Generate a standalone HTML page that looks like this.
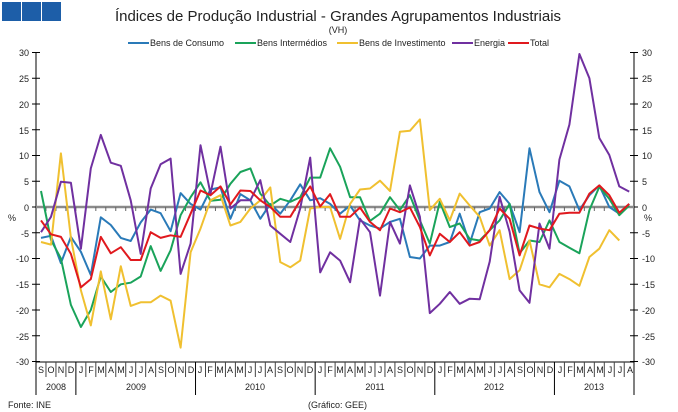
<!DOCTYPE html>
<html><head><meta charset="utf-8"><style>
body{margin:0;background:#fff;width:678px;height:412px;overflow:hidden;font-family:"Liberation Sans",sans-serif}
svg{position:absolute;left:0;top:0}
text{font-family:"Liberation Sans",sans-serif}
</style></head><body>
<svg id="s" width="678" height="412" viewBox="0 0 678 412" xmlns="http://www.w3.org/2000/svg">
<rect x="2" y="2" width="19" height="19" fill="#1d5ea8"/>
<rect x="22" y="2" width="19" height="19" fill="#1d5ea8"/>
<rect x="42" y="2" width="19" height="19" fill="#1d5ea8"/>
<text x="338" y="21" font-size="15" text-anchor="middle" fill="#222">Índices de Produção Industrial - Grandes Agrupamentos Industriais</text>
<text x="338" y="33" font-size="9" text-anchor="middle" fill="#222">(VH)</text>
<g font-size="9" fill="#222">
<line x1="128" y1="43" x2="149" y2="43" stroke="#2a7ab8" stroke-width="2"/><text x="150" y="46">Bens de Consumo</text>
<line x1="235" y1="43" x2="256" y2="43" stroke="#1aa35a" stroke-width="2"/><text x="257" y="46">Bens Intermédios</text>
<line x1="337" y1="43" x2="358" y2="43" stroke="#f0c030" stroke-width="2"/><text x="359" y="46">Bens de Investimento</text>
<line x1="452" y1="43" x2="473" y2="43" stroke="#7030a0" stroke-width="2"/><text x="474" y="46">Energia</text>
<line x1="508" y1="43" x2="529" y2="43" stroke="#e0191e" stroke-width="2"/><text x="530" y="46">Total</text>
</g>
<g id="axes" stroke="#000" stroke-width="1"></g>
<g id="lbl" font-size="9" fill="#222"></g>
<g id="ser" fill="none" stroke-width="2" stroke-linejoin="round"></g>
<text x="8" y="221" font-size="9" fill="#222">%</text>
<text x="644" y="221" font-size="9" fill="#222">%</text>
<text x="8" y="408" font-size="9" fill="#222">Fonte: INE</text>
<text x="308" y="408" font-size="9" fill="#222">(Gráfico: GEE)</text>
<g font-size="9" fill="#222" text-anchor="middle">
<text x="56" y="390">2008</text><text x="136" y="390">2009</text><text x="255" y="390">2010</text>
<text x="375" y="390">2011</text><text x="494" y="390">2012</text><text x="594" y="390">2013</text>
</g>
<g font-size="9" fill="#222" text-anchor="end">
<text x="29" y="56">30</text><text x="29" y="82">25</text><text x="29" y="108">20</text><text x="29" y="134">15</text><text x="29" y="159">10</text><text x="29" y="185">5</text><text x="29" y="211">0</text><text x="29" y="237">-5</text><text x="29" y="262">-10</text><text x="29" y="288">-15</text><text x="29" y="314">-20</text><text x="29" y="340">-25</text><text x="29" y="365">-30</text>
</g>
<g font-size="9" fill="#222">
<text x="642" y="56">30</text><text x="642" y="82">25</text><text x="642" y="108">20</text><text x="642" y="134">15</text><text x="642" y="159">10</text><text x="642" y="185">5</text><text x="642" y="211">0</text><text x="642" y="237">-5</text><text x="642" y="262">-10</text><text x="642" y="288">-15</text><text x="642" y="314">-20</text><text x="642" y="340">-25</text><text x="642" y="365">-30</text>
</g>
<g font-size="9" fill="#222" text-anchor="middle">
<text x="41" y="373">S</text><text x="51" y="373">O</text><text x="61" y="373">N</text><text x="71" y="373">D</text>
<text x="81" y="373">J</text><text x="91" y="373">F</text><text x="101" y="373">M</text><text x="111" y="373">A</text><text x="121" y="373">M</text><text x="131" y="373">J</text><text x="141" y="373">J</text><text x="151" y="373">A</text><text x="161" y="373">S</text><text x="171" y="373">O</text><text x="181" y="373">N</text><text x="191" y="373">D</text>
<text x="200" y="373">J</text><text x="210" y="373">F</text><text x="220" y="373">M</text><text x="230" y="373">A</text><text x="240" y="373">M</text><text x="250" y="373">J</text><text x="260" y="373">J</text><text x="270" y="373">A</text><text x="280" y="373">S</text><text x="290" y="373">O</text><text x="300" y="373">N</text><text x="310" y="373">D</text>
<text x="320" y="373">J</text><text x="330" y="373">F</text><text x="340" y="373">M</text><text x="350" y="373">A</text><text x="360" y="373">M</text><text x="370" y="373">J</text><text x="380" y="373">J</text><text x="390" y="373">A</text><text x="400" y="373">S</text><text x="410" y="373">O</text><text x="420" y="373">N</text><text x="430" y="373">D</text>
<text x="440" y="373">J</text><text x="450" y="373">F</text><text x="460" y="373">M</text><text x="470" y="373">A</text><text x="480" y="373">M</text><text x="490" y="373">J</text><text x="500" y="373">J</text><text x="510" y="373">A</text><text x="520" y="373">S</text><text x="530" y="373">O</text><text x="540" y="373">N</text><text x="550" y="373">D</text>
<text x="560" y="373">J</text><text x="570" y="373">F</text><text x="580" y="373">M</text><text x="590" y="373">A</text><text x="600" y="373">M</text><text x="610" y="373">J</text><text x="620" y="373">J</text><text x="630" y="373">A</text>
</g>
</svg>
<script>
var NS="http://www.w3.org/2000/svg";
function el(p,n,a){var e=document.createElementNS(NS,n);for(var k in a)e.setAttribute(k,a[k]);p.appendChild(e);return e;}
var ax=document.getElementById('axes');
function Y(v){return 207-v*5.15;}
function X(i){return 41+9.97*i;}
el(ax,'line',{x1:36,y1:52,x2:36,y2:395});
el(ax,'line',{x1:634,y1:52,x2:634,y2:395});
el(ax,'line',{x1:36,y1:362,x2:634,y2:362});
for(var v=-30;v<=30;v+=5){var y=Y(v);el(ax,'line',{x1:32,y1:y,x2:40,y2:y});el(ax,'line',{x1:630,y1:y,x2:638,y2:y});}
el(ax,'line',{x1:36,y1:207,x2:634,y2:207,stroke:'#8a8a8a','stroke-width':2.5});
for(var k=1;k<60;k++){var x=36+9.97*k;var yb=(k==4||k==16||k==28||k==40||k==52);
el(ax,'line',{x1:x,y1:362,x2:x,y2:yb?395:377,stroke:yb?'#000':'#444'});
el(ax,'line',{x1:x,y1:207,x2:x,y2:211,stroke:'#666'});}
var S={
'#2a7ab8':[-6,-5.6,-10.9,-5.8,-8.7,-13.2,-2,-3.5,-6,-6.6,-3,-0.5,-1.2,-4.7,2.7,0.6,-0.5,3.4,3.8,-2.3,2.5,1.3,-2.3,0.6,-1.3,1.3,4.4,1.3,1.7,0.6,-1.3,0.3,-2.6,-3.6,-4.2,-2.9,-2.3,-9.7,-10,-7.5,-7.5,-6.8,-1.3,-7.1,-1,-0.3,2.9,0.6,-4.9,11.4,2.9,-1,5.1,4,-0.6,2.3,4.2,0,-1.3,0.6],
'#1aa35a':[3.1,-6.4,-10,-19,-23.3,-20,-13.5,-16.5,-15,-14.7,-13.5,-7.6,-12.4,-8.4,-1.6,1.9,4.8,1.2,1.4,4.5,6.8,7.5,2.6,0.3,1.6,1,1.9,5.7,5.7,11.4,7.8,1.9,1.9,-2.7,-1.3,1.9,-0.6,2.3,-2.6,-7.1,1,-3.9,-3.2,-6.2,-6.5,-4.5,-2.6,0.6,-9,-6.5,-6.8,-2.6,-6.8,-7.9,-9,-0.6,3.9,1.6,-1.6,0.3],
'#f0c030':[-6.8,-7.3,10.4,-6,-16.2,-23,-12.5,-21.8,-11.5,-19.2,-18.5,-18.5,-17.2,-18.2,-27.3,-8.8,-4.2,1.3,2.3,-3.6,-2.9,-0.3,1.3,3.8,-10.7,-11.7,-10.4,-0.3,0,0,-6.2,0.6,3.4,3.6,5.1,3.1,14.6,14.8,17,-0.6,1.6,-2.6,2.6,0.3,-1.9,-7.5,-4.5,-14,-12.3,-6.5,-15,-15.6,-13,-14,-15.3,-9.7,-8.1,-4.5,-6.5],
'#7030a0':[-4.9,-1.9,4.9,4.7,-8.1,7.5,14,8.6,8,1.3,-9.1,3.6,8.3,9.4,-13,-7.1,12,2.6,11.7,-0.3,1.3,1.3,5.2,-3.6,-5.2,-6.8,-0.3,9.6,-12.7,-8.8,-10.4,-14.6,-2.3,-4.9,-17.2,-2.9,-7.1,4.2,-1.9,-20.6,-18.8,-16.5,-18.8,-17.8,-17.9,-10.6,2,-4.8,-16.2,-18.6,-3.2,-8.1,9.2,16,29.7,25,13.4,10.1,4,3],
'#e0191e':[-2.6,-5.3,-5.8,-9.1,-15.6,-14,-5.8,-9,-7.8,-10.3,-10.3,-4.9,-6,-5.5,-5.8,-1.3,3.2,2.3,4,0.5,3.2,3.1,1.3,0,-1.9,-1.9,1.3,4,0.1,2.5,-1.9,-1.9,-0.1,-2.9,-4.5,-0.3,-1,-0.1,-3.9,-9.4,-5.2,-6.8,-4.9,-7.5,-6.8,-4.5,-0.3,-2.3,-9.4,-3.6,-4.2,-4.5,-1.3,-1.1,-1.1,2.6,4.2,2.3,-1.1,0.6]};
var g=document.getElementById('ser');
for(var c in S){var p=S[c].map(function(v,i){return X(i).toFixed(1)+','+Y(v).toFixed(1);}).join(' ');
el(g,'polyline',{points:p,stroke:c});}
</script>
</body></html>
